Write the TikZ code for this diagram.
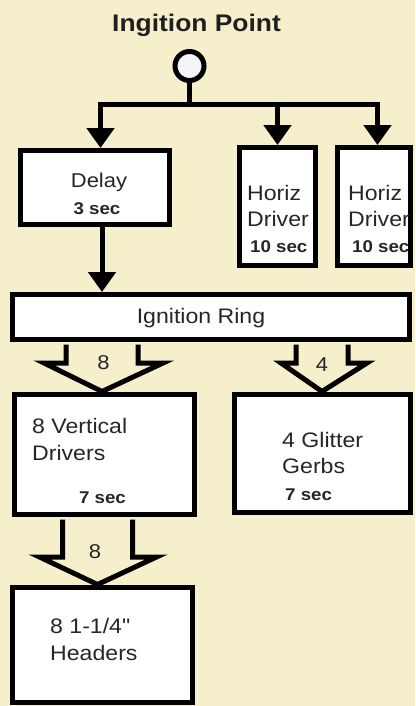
\documentclass[tikz,border=0pt]{standalone}
\usepackage{fontspec}
\setmainfont{Liberation Sans}[FakeStretch=1.1]
\newfontfamily\plainfont{Liberation Sans}[FakeStretch=1.1, Ligatures=TeXOff]
\usetikzlibrary{arrows.meta,calc}
\definecolor{bg}{HTML}{F5F0CB}
\definecolor{txt}{HTML}{262626}
\definecolor{dotfill}{HTML}{F4F4FA}
\newcommand\fsz[1]{\fontsize{#1}{#1}\selectfont}
\tikzset{
  box/.style={draw=black, fill=white, line width=5pt, inner sep=0pt},
  conn/.style={draw=black, line width=5pt},
  tipdown/.style={-{Triangle[width=27pt,length=20pt]}},
  hollow/.style={draw=black, fill=bg, line width=5pt, line join=miter},
  lbl/.style={text=txt, inner sep=0pt, anchor=base, font=\fsz{21}},
  lbll/.style={lbl, anchor=base west},
  secl/.style={lbl, font=\fsz{17}\bfseries},
}
\begin{document}
\begin{tikzpicture}[x=1pt,y=-1pt]
\fill[bg] (0,0) rectangle (415,706);
\useasboundingbox (0,0) rectangle (415,706);

% title and ignition point
\node[lbl, font=\fsz{24}\bfseries, text=black!88] (title) at (196.5,32) {Ingition Point};
\node[draw=black, fill=dotfill, circle, line width=5pt, minimum size=29, inner sep=0pt] (ip) at (189.5,66) {};

% boxes
\node[box, minimum width=149, minimum height=74] (delay) at (95,187.5) {};
\node[box, minimum width=76, minimum height=118] (h1) at (277.5,206.5) {};
\node[box, minimum width=73, minimum height=118] (h2) at (374,206.5) {};
\node[box, minimum width=397, minimum height=45] (ring) at (211,317) {};
\node[box, minimum width=180, minimum height=120] (vd) at (104.5,454.5) {};
\node[box, minimum width=176, minimum height=118] (gg) at (322.5,453.5) {};
\node[box, minimum width=180, minimum height=115] (hd) at (102.5,645) {};

% connectors from the ignition point
\coordinate (jc) at (189.5,104.5);
\coordinate (jl) at (100.5,104.5);
\coordinate (jr) at (377.5,104.5);
\coordinate (dx) at (102,0);
\draw[conn] (ip.south) -- (jc);
\draw[conn, tipdown] (jc) -| (delay.north -| jl);
\draw[conn, tipdown] (jc) -| (h1.north);
\draw[conn, tipdown] (jc) -| (h2.north -| jr);
\draw[conn, tipdown] (delay.south -| dx) -- (ring.north -| dx);

% hollow arrows
\coordinate (a1) at (102,0);
\coordinate (a2) at (322,0);
\coordinate (a3) at (97.5,0);
\draw[hollow] ($(ring.south -| a1)+(-36,2.5)$) |- ($(vd.north -| a1)+(-58,-29)$)
  -- ($(vd.north -| a1)+(0,-0.5)$) -- ($(vd.north -| a1)+(61,-29)$) -| ($(ring.south -| a1)+(36,2.5)$);
\draw[hollow] ($(ring.south -| a2)+(-26,2.5)$) |- ($(gg.north -| a2)+(-41,-29)$)
  -- ($(gg.north -| a2)+(0,-0.5)$) -- ($(gg.north -| a2)+(45,-29)$) -| ($(ring.south -| a2)+(26,2.5)$);
\draw[hollow] ($(vd.south -| a3)+(-35,2.5)$) |- ($(hd.north -| a3)+(-58,-28)$)
  -- ($(hd.north -| a3)+(0,-0.5)$) -- ($(hd.north -| a3)+(59,-28)$) -| ($(vd.south -| a3)+(35,2.5)$);

% texts
\node[lbl, font=\fsz{20}] (tdelay) at (99,187) {Delay};
\node[secl] (tdelays) at (97,214) {3 sec};
\node[lbll] (th1a) at (247,200) {Horiz};
\node[lbll] (th1b) at (247,226) {Driver};
\node[secl, anchor=base west] (th1c) at (250,252) {10 sec};
\node[lbll] (th2a) at (348,200) {Horiz};
\node[lbll] (th2b) at (348,226) {Driver};
\node[secl, anchor=base west] (th2c) at (352,252) {10 sec};
\node[lbl] (tring) at (201,323) {Ignition Ring};
\node[lbl, font=\fsz{20}] (n8a) at (103.5,369) {8};
\node[lbl, font=\fsz{20}] (n4) at (322,371) {4};
\node[lbll] (tvda) at (32,433) {8 Vertical};
\node[lbll] (tvdb) at (32,460) {Drivers};
\node[secl] (tvdc) at (102.5,503) {7 sec};
\node[lbll] (tgga) at (282,447) {4 Glitter};
\node[lbll] (tggb) at (282,473) {Gerbs};
\node[secl, anchor=base west] (tggc) at (285,500) {7 sec};
\node[lbl, font=\fsz{20}] (n8b) at (95,558) {8};
\node[lbll, font=\fsz{21}\plainfont] (thda) at (50,633) {8 1-1/4"};
\node[lbll] (thdb) at (50,660) {Headers};
\end{tikzpicture}
\end{document}
